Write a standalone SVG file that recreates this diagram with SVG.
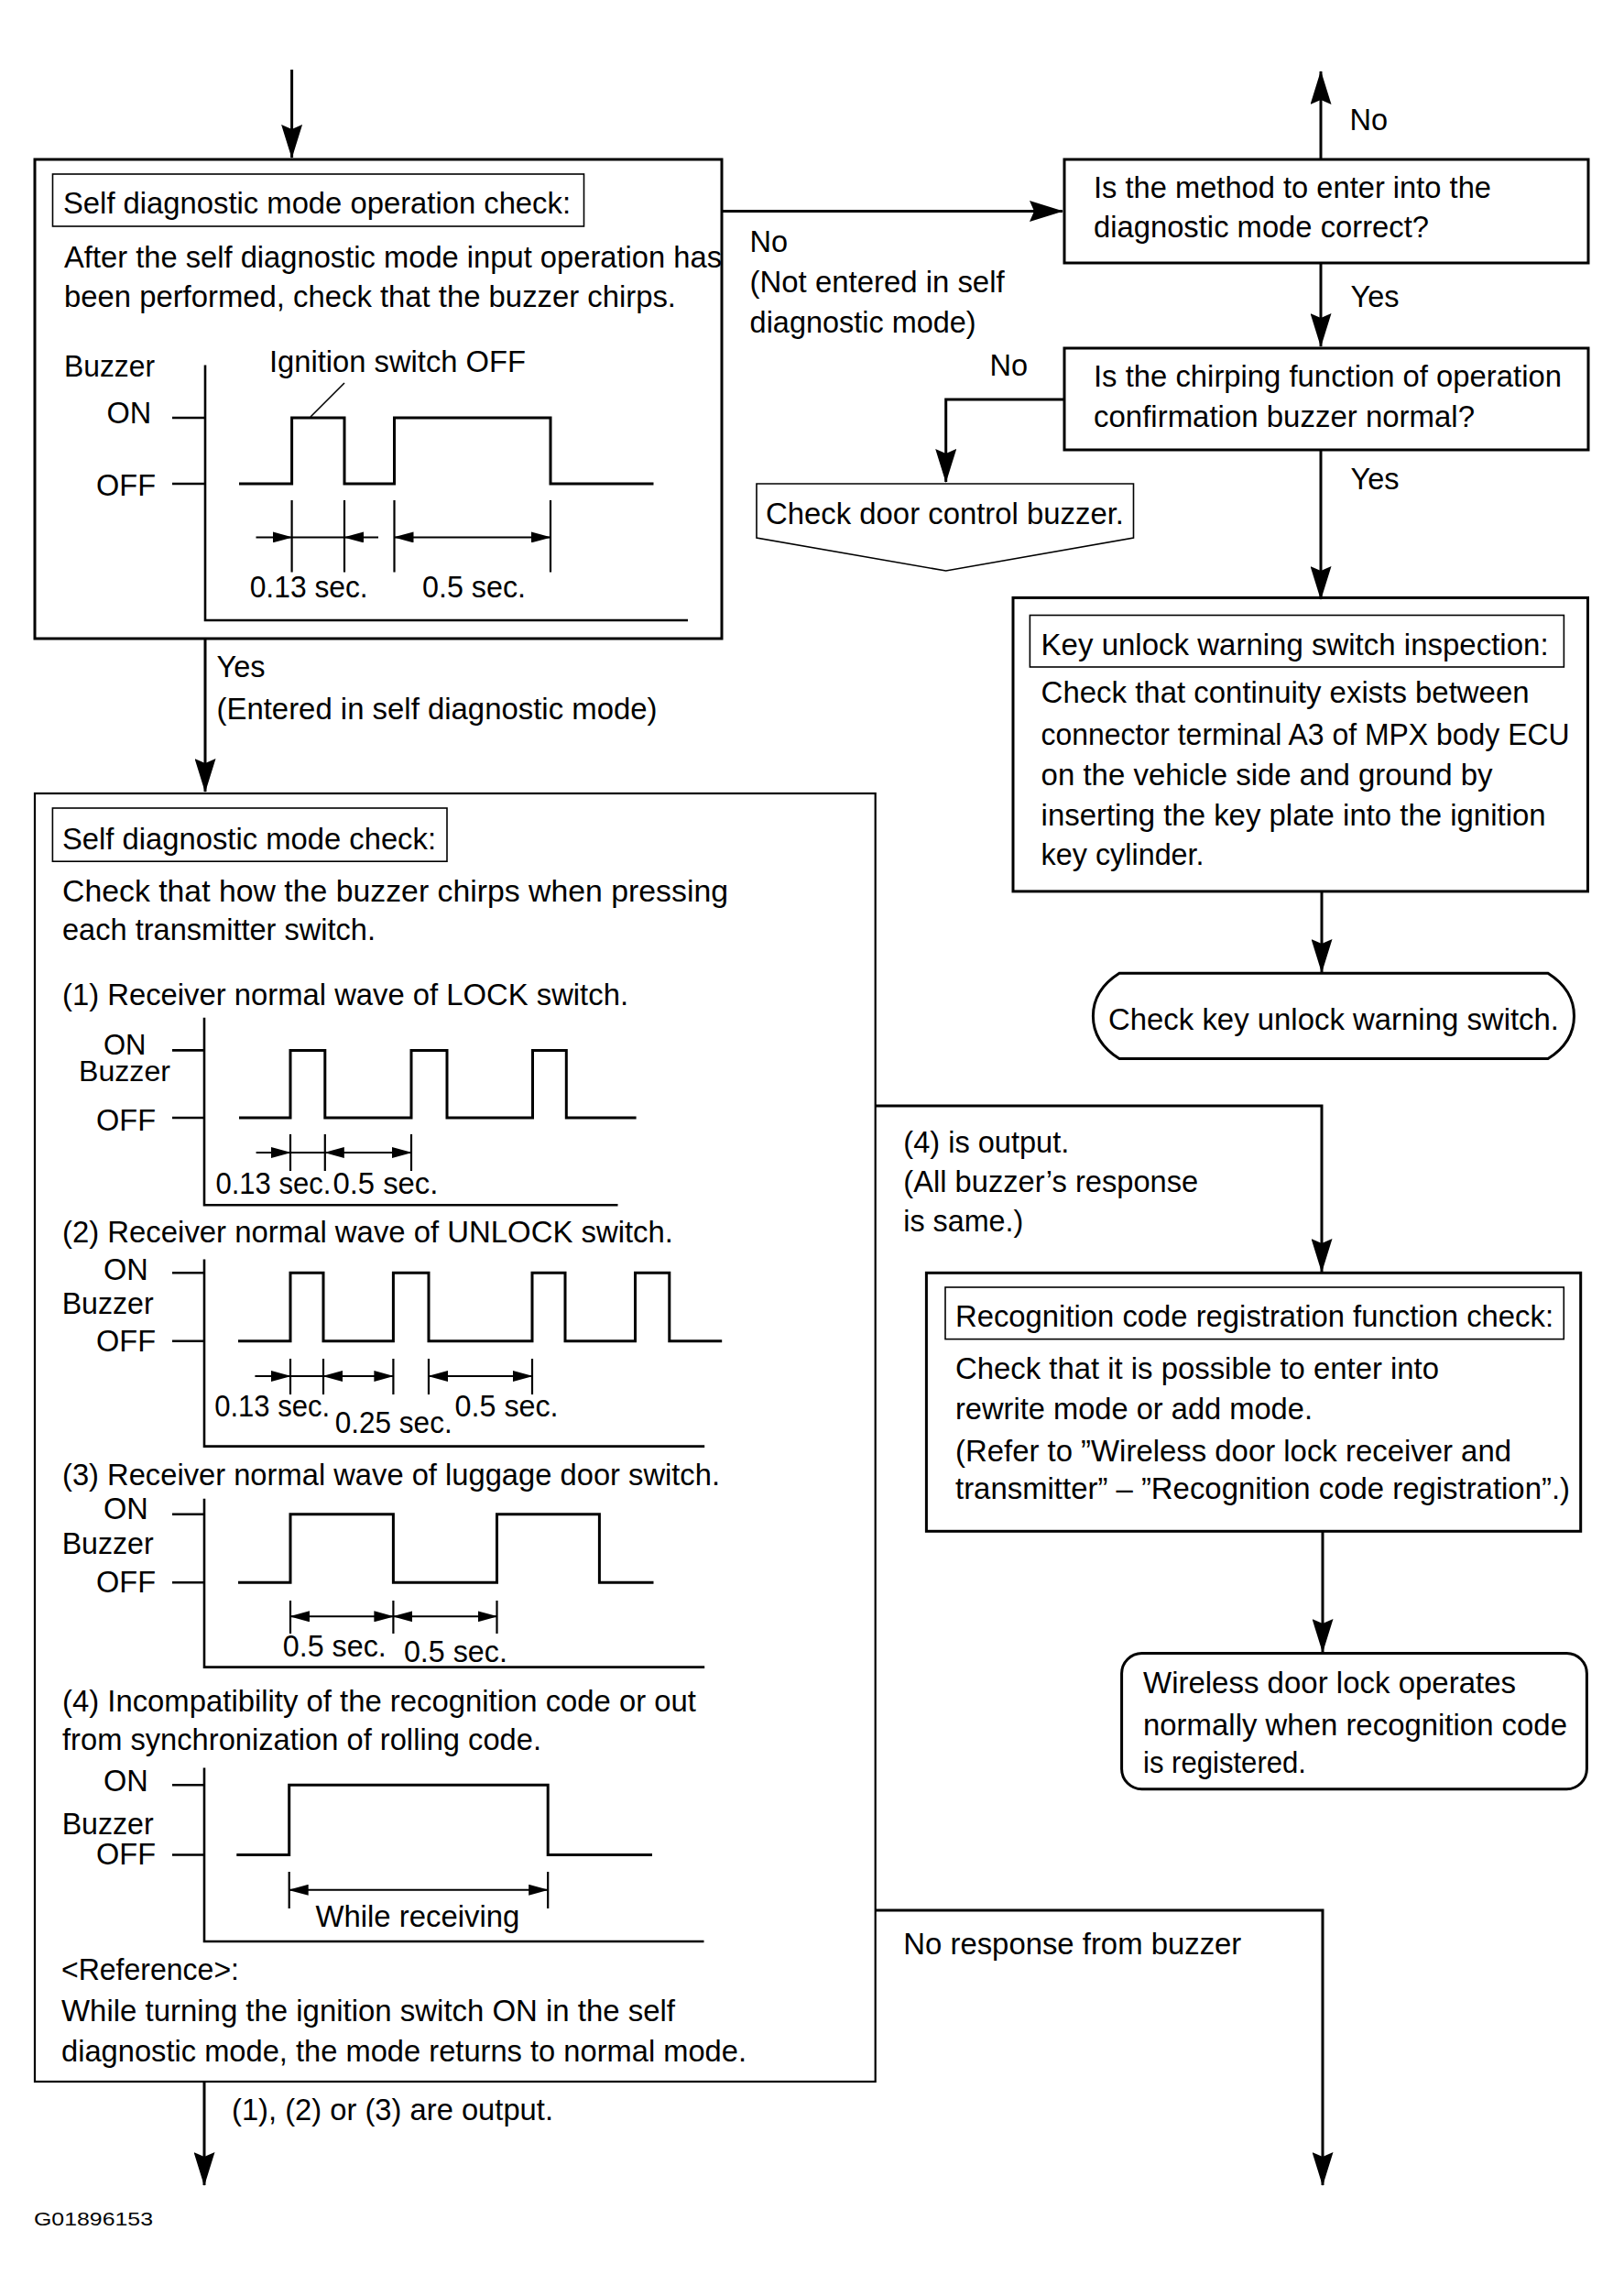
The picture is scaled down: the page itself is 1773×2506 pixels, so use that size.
<svg xmlns="http://www.w3.org/2000/svg" width="1773" height="2506" viewBox="0 0 1773 2506">
<style>
text{font-family:"Liberation Sans",Arial,"Noto Sans",sans-serif;font-size:32.5px;fill:#000}
.box{fill:none;stroke:#000;stroke-width:3}
.box5{fill:none;stroke:#000;stroke-width:2.2}
.tbox{fill:none;stroke:#000;stroke-width:1.6}
.conn{fill:none;stroke:#000;stroke-width:3}
.ax{fill:none;stroke:#000;stroke-width:2.6}
.wave{fill:none;stroke:#000;stroke-width:3}
.tick{fill:none;stroke:#000;stroke-width:2.2}
.dim{fill:none;stroke:#000;stroke-width:2}
.thin{fill:none;stroke:#000;stroke-width:1.6}
.small{font-size:21px}
</style>
<defs>
<marker id="ah" markerUnits="userSpaceOnUse" markerWidth="37" markerHeight="23" refX="36" refY="11.5" orient="auto">
<path d="M0,0 L37,11.5 L0,23 L5,11.5 Z" fill="#000"/>
</marker>
<marker id="dh" markerUnits="userSpaceOnUse" markerWidth="22" markerHeight="12" refX="21" refY="6" orient="auto-start-reverse">
<path d="M0,0 L22,6 L0,12 Z" fill="#000"/>
</marker>
</defs>
<rect width="1773" height="2506" fill="#fff"/>

<g id="connectors">
<path class="conn" d="M318.6,76 V172" marker-end="url(#ah)"/>
<path class="conn" d="M788,230.5 H1160" marker-end="url(#ah)"/>
<path class="conn" d="M1442,174 V78" marker-end="url(#ah)"/>
<path class="conn" d="M1442,287 V378" marker-end="url(#ah)"/>
<path class="conn" d="M1162,436 H1032.7 V526" marker-end="url(#ah)"/>
<path class="conn" d="M1442,491 V654" marker-end="url(#ah)"/>
<path class="conn" d="M224,697 V864" marker-end="url(#ah)"/>
<path class="conn" d="M1443,973 V1061" marker-end="url(#ah)"/>
<path class="conn" d="M955.7,1207 H1443 V1388" marker-end="url(#ah)"/>
<path class="conn" d="M1444,1671.4 V1803" marker-end="url(#ah)"/>
<path class="conn" d="M223,2272 V2385" marker-end="url(#ah)"/>
<path class="conn" d="M955.7,2085 H1444 V2385" marker-end="url(#ah)"/>
<text x="1473.5" y="142">No</text>
<text x="818.6" y="274.6">No</text>
<text x="818.6" y="319" textLength="278" lengthAdjust="spacingAndGlyphs">(Not entered in self</text>
<text x="818.6" y="362.7" textLength="247" lengthAdjust="spacingAndGlyphs">diagnostic mode)</text>
<text x="1474.5" y="335">Yes</text>
<text x="1080.5" y="410">No</text>
<text x="1474.5" y="534">Yes</text>
<text x="236.5" y="739.3">Yes</text>
<text x="236.5" y="784.8" textLength="481" lengthAdjust="spacingAndGlyphs">(Entered in self diagnostic mode)</text>
<text x="986.3" y="1257.5" textLength="181" lengthAdjust="spacingAndGlyphs">(4) is output.</text>
<text x="986.3" y="1300.5" textLength="322" lengthAdjust="spacingAndGlyphs">(All buzzer’s response</text>
<text x="986.3" y="1343.5" textLength="131" lengthAdjust="spacingAndGlyphs">is same.)</text>
<text x="253" y="2313.5" textLength="351" lengthAdjust="spacingAndGlyphs">(1), (2) or (3) are output.</text>
<text x="986.3" y="2132.6" textLength="369" lengthAdjust="spacingAndGlyphs">No response from buzzer</text>
</g>

<g id="op-check">
<rect class="box" x="38" y="174" width="750" height="523"/>
<rect class="tbox" x="57.5" y="190" width="580" height="57"/>
<text x="69" y="233.3" textLength="554" lengthAdjust="spacingAndGlyphs">Self diagnostic mode operation check:</text>
<text x="70" y="291.6" textLength="718" lengthAdjust="spacingAndGlyphs">After the self diagnostic mode input operation has</text>
<text x="70" y="335.2" textLength="668" lengthAdjust="spacingAndGlyphs">been performed, check that the buzzer chirps.</text>
<text x="70" y="411" textLength="99" lengthAdjust="spacingAndGlyphs">Buzzer</text>
<text x="294" y="406" textLength="280" lengthAdjust="spacingAndGlyphs">Ignition switch OFF</text>
<text x="116.5" y="461.5">ON</text>
<text x="105" y="541">OFF</text>
<path class="ax" d="M224,398.5 V677 H751"/>
<path class="ax" d="M188,456 H224 M188,528 H224"/>
<path class="wave" d="M261,528 H318.6 V456 H376 V528 H430.5 V456 H601 V528 H713.5"/>
<path class="thin" d="M376,418 L339,455"/>
<path class="tick" d="M318.6,546 V624.5 M376,546 V624.5 M430.5,546 V624.5 M601,546 V624.5"/>
<path class="dim" d="M318.6,586.4 H376"/>
<path class="dim" d="M279.5,586.4 H318.6" marker-end="url(#dh)"/>
<path class="dim" d="M413,586.4 H376" marker-end="url(#dh)"/>
<path class="dim" d="M430.5,586.4 H601" marker-start="url(#dh)" marker-end="url(#dh)"/>
<text x="272.7" y="652" textLength="129" lengthAdjust="spacingAndGlyphs">0.13 sec.</text>
<text x="461" y="652" textLength="113" lengthAdjust="spacingAndGlyphs">0.5 sec.</text>
</g>

<g id="q-method">
<rect class="box" x="1162" y="174" width="572" height="113"/>
<text x="1194" y="215.8" textLength="434" lengthAdjust="spacingAndGlyphs">Is the method to enter into the</text>
<text x="1194" y="259.4" textLength="366" lengthAdjust="spacingAndGlyphs">diagnostic mode correct?</text>
</g>

<g id="q-chirp">
<rect class="box" x="1162" y="380" width="572" height="111"/>
<text x="1194" y="422.4" textLength="511" lengthAdjust="spacingAndGlyphs">Is the chirping function of operation</text>
<text x="1194" y="466" textLength="416" lengthAdjust="spacingAndGlyphs">confirmation buzzer normal?</text>
</g>

<g id="door-buzzer">
<path class="thin" d="M826,528 H1237.5 V587 L1032.7,623 L826,587 Z"/>
<text x="836" y="571.7" textLength="391" lengthAdjust="spacingAndGlyphs">Check door control buzzer.</text>
</g>

<g id="key-unlock-inspection">
<rect class="box" x="1106" y="652.4" width="627.5" height="320.5"/>
<rect class="tbox" x="1124.4" y="671.5" width="583" height="56.5"/>
<text x="1136.6" y="714.6" textLength="554" lengthAdjust="spacingAndGlyphs">Key unlock warning switch inspection:</text>
<text x="1136.6" y="767.2" textLength="533" lengthAdjust="spacingAndGlyphs">Check that continuity exists between</text>
<text x="1136.6" y="812.6" textLength="577" lengthAdjust="spacingAndGlyphs">connector terminal A3 of MPX body ECU</text>
<text x="1136.6" y="856.6" textLength="493" lengthAdjust="spacingAndGlyphs">on the vehicle side and ground by</text>
<text x="1136.6" y="901" textLength="551" lengthAdjust="spacingAndGlyphs">inserting the key plate into the ignition</text>
<text x="1136.6" y="944" textLength="178" lengthAdjust="spacingAndGlyphs">key cylinder.</text>
</g>

<g id="key-unlock-switch">
<path class="box" d="M1222,1062.3 H1690 C1710,1075 1718.5,1092 1718.5,1109 C1718.5,1126 1710,1143 1690,1155.6 H1222 C1202,1143 1193.4,1126 1193.4,1109 C1193.4,1092 1202,1075 1222,1062.3 Z"/>
<text x="1210" y="1123.5" textLength="492" lengthAdjust="spacingAndGlyphs">Check key unlock warning switch.</text>
</g>

<g id="mode-check">
<rect class="box5" x="38" y="866" width="917.7" height="1406"/>
<rect class="tbox" x="57.4" y="882" width="430.6" height="58.2"/>
<text x="68" y="926.8" textLength="408" lengthAdjust="spacingAndGlyphs">Self diagnostic mode check:</text>
<text x="68" y="983.5" textLength="727" lengthAdjust="spacingAndGlyphs">Check that how the buzzer chirps when pressing</text>
<text x="68" y="1025.9" textLength="342" lengthAdjust="spacingAndGlyphs">each transmitter switch.</text>
<text x="68" y="1097.3" textLength="618" lengthAdjust="spacingAndGlyphs">(1) Receiver normal wave of LOCK switch.</text>
<text x="113" y="1151" style="font-size:31px">ON</text>
<text x="86" y="1180" textLength="100" lengthAdjust="spacingAndGlyphs" style="font-size:31px">Buzzer</text>
<text x="105" y="1233.5">OFF</text>
<path class="ax" d="M223,1110.7 V1315.2 H674.5"/>
<path class="ax" d="M188,1146.4 H223 M188,1220 H223"/>
<path class="wave" d="M261,1220 H317 V1146.4 H354.8 V1220 H449 V1146.4 H488 V1220 H581.5 V1146.4 H618.3 V1220 H694.6"/>
<path class="tick" d="M317,1238 V1278 M354.8,1238 V1278 M449,1238 V1278"/>
<path class="dim" d="M279.6,1258 H317" marker-end="url(#dh)"/>
<path class="dim" d="M317,1258 H354.8"/>
<path class="dim" d="M354.8,1258 H449" marker-start="url(#dh)" marker-end="url(#dh)"/>
<text x="235.4" y="1302.7" textLength="126" lengthAdjust="spacingAndGlyphs">0.13 sec.</text>
<text x="363.4" y="1302.7" textLength="115" lengthAdjust="spacingAndGlyphs">0.5 sec.</text>

<text x="68" y="1356.3" textLength="667" lengthAdjust="spacingAndGlyphs">(2) Receiver normal wave of UNLOCK switch.</text>
<text x="113" y="1396.9">ON</text>
<text x="67.7" y="1434" textLength="100" lengthAdjust="spacingAndGlyphs">Buzzer</text>
<text x="105" y="1475">OFF</text>
<path class="ax" d="M223,1374.5 V1578.6 H769.2"/>
<path class="ax" d="M188,1389.3 H223 M188,1463.8 H223"/>
<path class="wave" d="M260,1463.8 H317 V1389.3 H353 V1463.8 H429.4 V1389.3 H468 V1463.8 H581 V1389.3 H617 V1463.8 H693.5 V1389.3 H730.8 V1463.8 H788.2"/>
<path class="tick" d="M317,1483 V1522 M353,1483 V1522 M429.4,1483 V1522 M468,1483 V1522 M581,1483 V1522"/>
<path class="dim" d="M278.4,1502 H317" marker-end="url(#dh)"/>
<path class="dim" d="M317,1502 H353"/>
<path class="dim" d="M353,1502 H429.4" marker-start="url(#dh)" marker-end="url(#dh)"/>
<path class="dim" d="M468,1502 H581" marker-start="url(#dh)" marker-end="url(#dh)"/>
<text x="234.2" y="1546.4" textLength="126" lengthAdjust="spacingAndGlyphs">0.13 sec.</text>
<text x="365.7" y="1564.3" textLength="128" lengthAdjust="spacingAndGlyphs">0.25 sec.</text>
<text x="496.6" y="1545.5" textLength="113" lengthAdjust="spacingAndGlyphs">0.5 sec.</text>

<text x="68" y="1621.4" textLength="718" lengthAdjust="spacingAndGlyphs">(3) Receiver normal wave of luggage door switch.</text>
<text x="113" y="1658">ON</text>
<text x="67.7" y="1696" textLength="100" lengthAdjust="spacingAndGlyphs">Buzzer</text>
<text x="105" y="1738.4">OFF</text>
<path class="ax" d="M223,1635.7 V1819.6 H769.2"/>
<path class="ax" d="M188,1652.7 H223 M188,1727.2 H223"/>
<path class="wave" d="M260,1727.2 H317 V1652.7 H429.4 V1727.2 H542.5 V1652.7 H654.4 V1727.2 H713.5"/>
<path class="tick" d="M317,1747 V1783 M429.4,1747 V1783 M542.5,1747 V1783"/>
<path class="dim" d="M317,1764.3 H429.4" marker-start="url(#dh)" marker-end="url(#dh)"/>
<path class="dim" d="M429.4,1764.3 H542.5" marker-start="url(#dh)" marker-end="url(#dh)"/>
<text x="308.8" y="1807.6" textLength="113" lengthAdjust="spacingAndGlyphs">0.5 sec.</text>
<text x="440.9" y="1814.3" textLength="113" lengthAdjust="spacingAndGlyphs">0.5 sec.</text>

<text x="68" y="1867.9" textLength="692" lengthAdjust="spacingAndGlyphs">(4) Incompatibility of the recognition code or out</text>
<text x="68" y="1910.3" textLength="523" lengthAdjust="spacingAndGlyphs">from synchronization of rolling code.</text>
<text x="113" y="1955">ON</text>
<text x="67.7" y="2001.8" textLength="100" lengthAdjust="spacingAndGlyphs">Buzzer</text>
<text x="105" y="2035.3">OFF</text>
<path class="ax" d="M223,1929.5 V2119 H768.5"/>
<path class="ax" d="M188,1948.2 H223 M188,2024.5 H223"/>
<path class="wave" d="M258.3,2024.5 H315.7 V1948.2 H598.2 V2024.5 H712"/>
<path class="tick" d="M315.7,2043 V2083 M598.2,2043 V2083"/>
<path class="dim" d="M315.7,2062.8 H598.2" marker-start="url(#dh)" marker-end="url(#dh)"/>
<text x="344.4" y="2102.5" textLength="223" lengthAdjust="spacingAndGlyphs">While receiving</text>

<text x="67" y="2161" textLength="194" lengthAdjust="spacingAndGlyphs">&lt;Reference&gt;:</text>
<text x="67" y="2206" textLength="670" lengthAdjust="spacingAndGlyphs">While turning the ignition switch ON in the self</text>
<text x="67" y="2249.6" textLength="748" lengthAdjust="spacingAndGlyphs">diagnostic mode, the mode returns to normal mode.</text>
</g>

<g id="code-registration">
<rect class="box" x="1011.4" y="1389.3" width="714.3" height="282"/>
<rect class="tbox" x="1032" y="1405" width="675.3" height="56.6"/>
<text x="1043" y="1448.2" textLength="653" lengthAdjust="spacingAndGlyphs">Recognition code registration function check:</text>
<text x="1043" y="1505.4" textLength="528" lengthAdjust="spacingAndGlyphs">Check that it is possible to enter into</text>
<text x="1043" y="1548.7" textLength="390" lengthAdjust="spacingAndGlyphs">rewrite mode or add mode.</text>
<text x="1043" y="1594.6" textLength="607" lengthAdjust="spacingAndGlyphs">(Refer to ”Wireless door lock receiver and</text>
<text x="1043" y="1635.7" textLength="671" lengthAdjust="spacingAndGlyphs">transmitter” – ”Recognition code registration”.)</text>
</g>

<g id="wireless-ok">
<rect class="box" x="1224.6" y="1804.5" width="507.8" height="148.2" rx="22" ry="22"/>
<text x="1248" y="1847.8" textLength="407" lengthAdjust="spacingAndGlyphs">Wireless door lock operates</text>
<text x="1248" y="1893.8" textLength="463" lengthAdjust="spacingAndGlyphs">normally when recognition code</text>
<text x="1248" y="1934.8" textLength="178" lengthAdjust="spacingAndGlyphs">is registered.</text>
</g>

<text class="small" x="37" y="2429.4" textLength="130" lengthAdjust="spacingAndGlyphs">G01896153</text>
</svg>
